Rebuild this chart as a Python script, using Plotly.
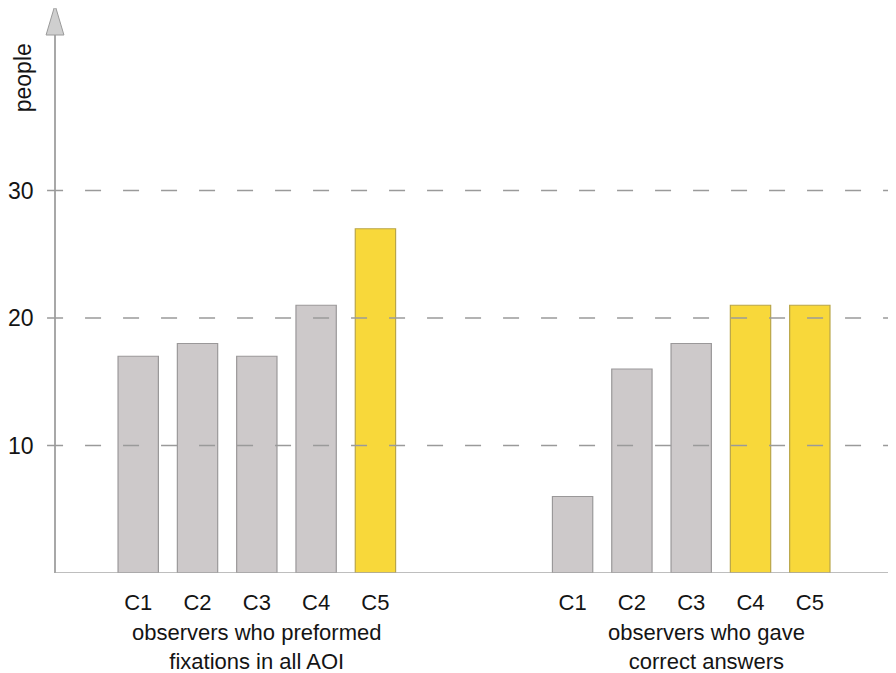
import plotly.graph_objects as go

categories = ["C1", "C2", "C3", "C4", "C5"]
fixations_values = [17, 18, 17, 21, 27]
correct_values = [6, 16, 18, 21, 21]
fixations_highlight = [False, False, False, False, True]
correct_highlight = [False, False, False, True, True]
group_titles = ["observers who preformed<br>fixations in all AOI",
                "observers who gave<br>correct answers"]
y_ticks = [10, 20, 30]
y_label = "people"

GRAY_FILL = "#cdc9ca"
GRAY_LINE = "#9a9899"
YEL_FILL = "#f8d83a"
YEL_LINE = "#b9a548"
AXIS = "#a8a8a8"
FONT = "Liberation Sans, Arial, sans-serif"
TXT = "#141414"

# page has an 8px body margin; size the figure so it ends at the window edge
FIG_W, FIG_H = 888, 665
M_L, M_R, M_T, M_B = 40, 0, 27, 100


def fills(h):
    return [YEL_FILL if v else GRAY_FILL for v in h]


def lines(h):
    return [YEL_LINE if v else GRAY_LINE for v in h]


fig = go.Figure()
fig.add_trace(go.Bar(x=categories, y=fixations_values, xaxis="x", yaxis="y",
                     marker=dict(color=fills(fixations_highlight),
                                 line=dict(color=lines(fixations_highlight), width=1.2)),
                     showlegend=False, hoverinfo="x+y"))
fig.add_trace(go.Bar(x=categories, y=correct_values, xaxis="x2", yaxis="y",
                     marker=dict(color=fills(correct_highlight),
                                 line=dict(color=lines(correct_highlight), width=1.2)),
                     showlegend=False, hoverinfo="x+y"))

plot_w = FIG_W - M_L - M_R
plot_h = FIG_H - M_T - M_B

shapes = []
for t in y_ticks:
    shapes.append(dict(type="line", xref="paper", yref="y", x0=-8 / plot_w, x1=1,
                       y0=t, y1=t, layer="above",
                       line=dict(color="#9a9a9a", width=1.3, dash="16px,22px")))
# x baseline
shapes.append(dict(type="line", xref="paper", yref="y", x0=0, x1=1, y0=0, y1=0,
                   layer="above", line=dict(color=AXIS, width=1.5)))
# arrow head at top of y axis
ah = 30 / plot_h
aw = 9 / plot_w
shapes.append(dict(type="path", xref="paper", yref="paper",
                   path=f"M {-aw} 1 L {aw} 1 L 0 {1 + ah} Z",
                   fillcolor="#cfcfcf", line=dict(color="#9a9a9a", width=1)))

annotations = [
    dict(text=group_titles[0], xref="x domain", yref="paper", x=0.5, y=-74 / plot_h,
         xanchor="center", yanchor="middle", showarrow=False,
         font=dict(family=FONT, size=22, color=TXT)),
    dict(text=group_titles[1], xref="x2 domain", yref="paper", x=0.55, y=-74 / plot_h,
         xanchor="center", yanchor="middle", showarrow=False,
         font=dict(family=FONT, size=22, color=TXT)),
    dict(text=y_label, textangle=-90, xref="paper", yref="paper",
         x=-32 / plot_w, y=1 - 43 / plot_h, xanchor="center", yanchor="middle",
         showarrow=False, font=dict(family=FONT, size=23, color=TXT)),
]

fig.update_layout(
    width=FIG_W, height=FIG_H,
    margin=dict(l=M_L, r=M_R, t=M_T, b=M_B),
    paper_bgcolor="white", plot_bgcolor="white",
    bargap=0.32,
    font=dict(family=FONT, color=TXT),
    xaxis=dict(domain=[54 / plot_w, 353 / plot_w], anchor="y",
               showline=False, showgrid=False, zeroline=False, ticks="",
               ticklabelstandoff=14, tickfont=dict(size=22, color=TXT, family=FONT)),
    xaxis2=dict(domain=[492 / plot_w, 791 / plot_w], anchor="y",
                showline=False, showgrid=False, zeroline=False, ticks="",
                ticklabelstandoff=14, tickfont=dict(size=22, color=TXT, family=FONT)),
    yaxis=dict(range=[0, plot_h / 12.75], tickvals=y_ticks, showgrid=False,
               anchor="free", position=0,
               zeroline=False, showline=True, linecolor=AXIS, linewidth=1.5,
               ticks="", ticklabelstandoff=16,
               tickfont=dict(size=23, color=TXT, family=FONT)),
    shapes=shapes,
    annotations=annotations,
)

fig.write_html("out.html")
